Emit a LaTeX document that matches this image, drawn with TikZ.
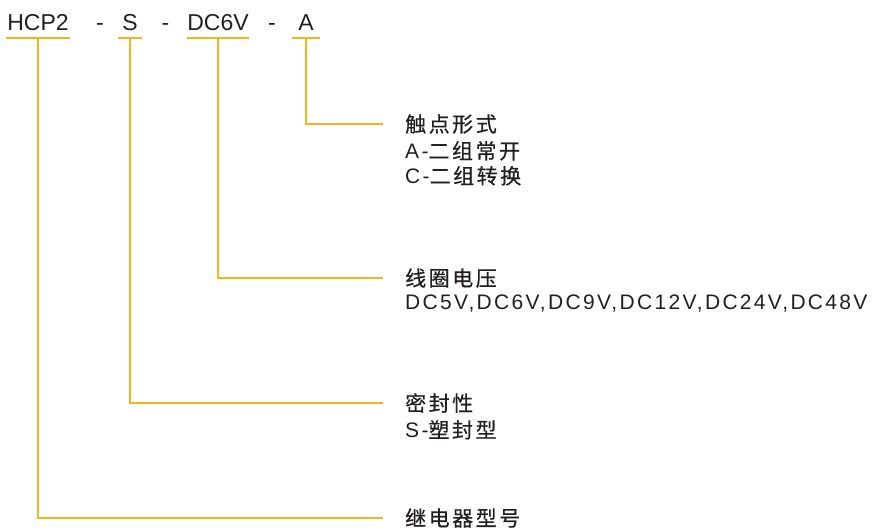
\documentclass[tikz,border=0pt]{standalone}
\usepackage{fontspec}
\setmainfont{Liberation Sans}
\newfontfamily\cjk[LetterSpace=12, FakeBold=0.6]{Noto Sans CJK SC}
\newfontfamily\lat[LetterSpace=11]{Liberation Sans}
\usetikzlibrary{positioning}
\definecolor{leadgold}{RGB}{243,180,30}
\definecolor{ink}{RGB}{35,31,32}
\tikzset{
  part/.style={anchor=base, inner xsep=0pt, inner ysep=0pt, text depth=8pt,
    minimum width=56pt, font=\fontsize{23}{23}\selectfont, text=ink},
  sep/.style={anchor=base, inner sep=0pt, font=\fontsize{23}{23}\selectfont, text=ink},
  title/.style={anchor=west, inner sep=0pt, font=\fontsize{21}{25}\selectfont\cjk, text=ink},
  desc/.style={inner sep=0pt, align=left, font=\fontsize{21}{25}\selectfont\lat, text=ink},
  lead/.style={leadgold, line width=1.5pt},
}
\begin{document}
\begin{tikzpicture}[x=1pt, y=-1pt]
    \useasboundingbox (0,0) rectangle (873,531);

    % Model code HCP2-S-DC6V-A
    \node[part, minimum width=64pt] (hcp) at (38,30) {HCP2};
    \node[sep] (d1) at (100,30) {-};
    \node[part, minimum width=24pt] (seal) at (130,30) {S};
    \node[sep] (d2) at (165.5,30) {-};
    \node[part] (volt) at (218,30) {DC6V};
    \node[sep] (d3) at (272,30) {-};
    \node[part, minimum width=27pt] (form) at (306,30) {A};
    \foreach \n in {hcp,seal,volt,form} \draw[lead] (\n.south west) -- (\n.south east);

    % Explanations
    \node[title] (tform) at (405,124) {触点形式};
    \node[desc, below right=7pt and 0pt of tform.south west] (dform) {A-{\cjk 二组常开}\\C-{\cjk 二组转换}};
    \node[title] (tvolt) at (405,278) {线圈电压};
    \node[desc, below right=7pt and 0pt of tvolt.south west] (dvolt) {DC5V,DC6V,DC9V,DC12V,DC24V,DC48V};
    \node[title] (tseal) at (405,403) {密封性};
    \node[desc, below right=7pt and 0pt of tseal.south west] (dseal) {S-{\cjk 塑封型}};
    \node[title] (thcp) at (405,518) {继电器型号};

    % Leader lines
    \draw[lead] (form.south) |- ([xshift=-22pt]tform.west);
    \draw[lead] (volt.south) |- ([xshift=-22pt]tvolt.west);
    \draw[lead] (seal.south) |- ([xshift=-22pt]tseal.west);
    \draw[lead] (hcp.south) |- ([xshift=-22pt]thcp.west);
\end{tikzpicture}
\end{document}
